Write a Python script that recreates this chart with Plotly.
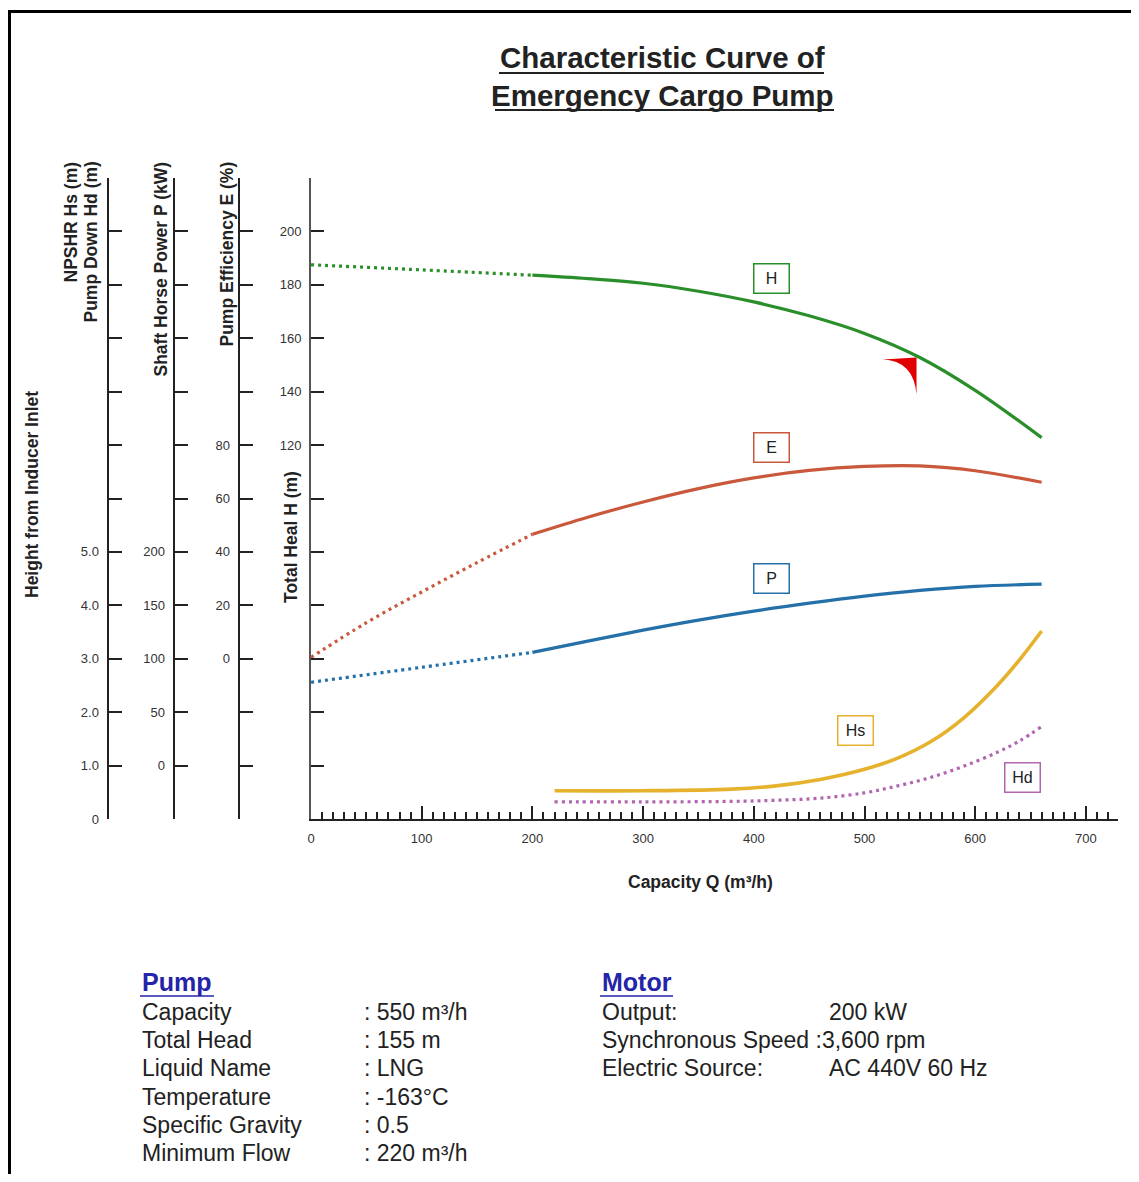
import plotly.graph_objects as go
import numpy as np

# ---------------- data ----------------
# Total head H (m) vs capacity Q (m3/h)
H_Q_DOT = [0, 100, 200]
H_DOT = [187.5, 185.6, 183.6]
H_Q = [200, 250, 300, 350, 400, 450, 500, 550, 600, 660]
H_VAL = [183.6, 182.3, 180.6, 177.6, 173.6, 168.4, 161.8, 152.8, 140.5, 122.8]

# Pump efficiency E (%)
E_Q_DOT = [0, 50, 100, 150, 200]
E_DOT = [0.5, 13.5, 25.0, 36.0, 46.6]
E_Q = [200, 250, 300, 350, 400, 450, 500, 550, 600, 660]
E_VAL = [46.6, 53.0, 58.7, 63.7, 67.7, 70.5, 72.0, 72.2, 70.4, 66.1]

# Shaft horse power P (kW)
P_Q_DOT = [0, 100, 200]
P_DOT = [78, 92, 106]
P_Q = [200, 250, 300, 350, 400, 450, 500, 550, 600, 660]
P_VAL = [106, 116.5, 126.8, 136.2, 144.6, 152.0, 158.6, 164.0, 167.8, 169.8]

# NPSHR Hs (m) and pump down Hd (m)
HS_Q = [220, 300, 380, 420, 460, 500, 530, 560, 590, 620, 640, 660]
HS_VAL = [0.53, 0.53, 0.56, 0.62, 0.74, 0.93, 1.14, 1.45, 1.90, 2.50, 2.98, 3.52]
HD_Q = [220, 300, 380, 420, 460, 500, 530, 560, 590, 620, 640, 660]
HD_VAL = [0.32, 0.32, 0.33, 0.35, 0.39, 0.49, 0.62, 0.78, 0.99, 1.25, 1.46, 1.73]

RATED_Q = 550
RATED_H = 155

X_TICKS = [0, 100, 200, 300, 400, 500, 600, 700]
H_TICKS = [-20, 0, 20, 40, 60, 80, 100, 120, 140, 160, 180, 200, 220]
H_LABELS = ["", "", "", "", "", "", "", "120", "140", "160", "180", "200", ""]
E_TICKS = [-60, -40, -20, 0, 20, 40, 60, 80, 100, 120, 140, 160, 180]
E_LABELS = ["", "", "", "0", "20", "40", "60", "80", "", "", "", "", ""]
P_TICKS = [-50, 0, 50, 100, 150, 200, 250, 300, 350, 400, 450, 500, 550]
P_LABELS = ["", "0", "50", "100", "150", "200", "", "", "", "", "", "", ""]
HS_TICKS = [0, 1, 2, 3, 4, 5, 6, 7, 8, 9, 10, 11, 12]
HS_LABELS = ["0", "1.0", "2.0", "3.0", "4.0", "5.0", "", "", "", "", "", "", ""]

PUMP_ROWS = [("Capacity", ": 550 m³/h"), ("Total Head", ": 155 m"), ("Liquid Name", ": LNG"),
             ("Temperature", ": -163°C"), ("Specific Gravity", ": 0.5"), ("Minimum Flow", ": 220 m³/h")]
MOTOR_ROWS = [("Output:", "200 kW"), ("Synchronous Speed :3,600 rpm", ""), ("Electric Source:", "AC 440V 60 Hz")]

# ---------------- styling / layout helpers ----------------
W, HT, OFF = 1123, 1166, 8
def fx(X):
    return (X - OFF) / W
def fy(Y):
    return 1 - (Y - OFF) / HT

C_H = "#2a8f2a"
C_E = "#c9583c"
C_P = "#2470a8"
C_HS = "#e6b22e"
C_HD = "#b066b0"
AX = "#222222"
FONT = "Liberation Sans"
TICKFONT = dict(family=FONT, size=13, color="#333333")

fig = go.Figure()

def add(xs, ys, color, yaxis, dotted=False, width=3.2):
    fig.add_trace(go.Scatter(
        x=xs, y=ys, mode="lines", yaxis=yaxis, hoverinfo="skip", showlegend=False,
        line=dict(color=color, width=width, shape="spline", dash="3px,4px" if dotted else "solid")))

add(H_Q_DOT, H_DOT, C_H, "y", dotted=True)
add(H_Q, H_VAL, C_H, "y")
add(E_Q_DOT, E_DOT, C_E, "y2", dotted=True)
add(E_Q, E_VAL, C_E, "y2")
add(P_Q_DOT, P_DOT, C_P, "y3", dotted=True)
add(P_Q, P_VAL, C_P, "y3")
add(HS_Q, HS_VAL, C_HS, "y4", width=3.6)
add(HD_Q, HD_VAL, C_HD, "y4", dotted=True)

ydom = [fy(819), fy(178)]

def yax(ticks, labels, rng, pos=None, linecolor=AX):
    d = dict(range=rng, domain=ydom, tickmode="array", tickvals=ticks, ticktext=labels,
             ticks="inside", ticklen=13, tickwidth=2, tickcolor=AX, showline=True,
             linewidth=2, linecolor=linecolor, showgrid=False, zeroline=False,
             tickfont=TICKFONT, fixedrange=True, ticklabelstandoff=5)
    if pos is not None:
        d.update(anchor="free", position=pos, overlaying="y", side="left")
    else:
        d.update(anchor="x", side="left")
    return d

fig.update_layout(
    width=W, height=HT, margin=dict(l=0, r=0, t=0, b=0, autoexpand=False),
    paper_bgcolor="white", plot_bgcolor="white", showlegend=False,
    xaxis=dict(range=[0, 729], domain=[fx(311), fx(1118)], tickmode="array", tickvals=X_TICKS,
               ticks="inside", ticklen=13, tickwidth=2, tickcolor=AX, showline=True, linewidth=2,
               linecolor=AX, showgrid=False, zeroline=False, tickfont=TICKFONT, anchor="y",
               ticklabelstandoff=6,
               minor=dict(ticks="inside", ticklen=7, tickwidth=1.5, tickcolor=AX, dtick=10,
                          showgrid=False)),
    yaxis=yax(H_TICKS, H_LABELS, [-20, 220], linecolor="#555555"),
    yaxis2=yax(E_TICKS, E_LABELS, [-60, 180], pos=fx(238.5)),
    yaxis3=yax(P_TICKS, P_LABELS, [-50, 550], pos=fx(173.5)),
    yaxis4=yax(HS_TICKS, HS_LABELS, [0, 12], pos=fx(107.5)),
)

ann = []
# title
for i, line in enumerate(["Characteristic Curve of", "Emergency Cargo Pump"]):
    ann.append(dict(text="<b>" + line + "</b>", x=fx(662), y=fy(58 + 37 * i), xref="paper", yref="paper",
                    showarrow=False, xanchor="center", yanchor="middle",
                    font=dict(family=FONT, size=29.5, color="#222222")))

# axis titles
AT = dict(family=FONT, size=17.5, color="#222222")
def vtitle(text, X, Y, yanchor):
    ann.append(dict(text="<b>" + text + "</b>", x=fx(X), y=fy(Y), xref="paper", yref="paper",
                    showarrow=False, textangle=-90, xanchor="center", yanchor=yanchor, font=AT))
vtitle("Height from Inducer Inlet", 32, 495, "middle")
vtitle("NPSHR Hs (m)", 70, 160, "top")
vtitle("Pump Down Hd (m)", 90, 160, "top")
vtitle("Shaft Horse Power P (kW)", 160, 160, "top")
vtitle("Pump Efficiency E (%)", 226, 160, "top")
vtitle("Total Heal H (m)", 291, 537, "middle")
ann.append(dict(text="<b>Capacity Q (m³/h)</b>", x=fx(700), y=fy(882), xref="paper", yref="paper",
                showarrow=False, xanchor="center", yanchor="middle", font=AT))

# curve label boxes
for txt, X, Y, col in [("H", 771, 278, C_H), ("E", 771, 447, C_E), ("P", 771, 578, C_P),
                       ("Hs", 855, 730, C_HS), ("Hd", 1022, 777, C_HD)]:
    ann.append(dict(text=txt, x=fx(X), y=fy(Y), xref="paper", yref="paper", showarrow=False,
                    xanchor="center", yanchor="middle", width=32, height=26, borderpad=1,
                    bordercolor=col, borderwidth=1.5, bgcolor="white",
                    font=dict(family=FONT, size=16, color="#222222")))

# spec text
BODY = dict(family=FONT, size=23, color="#222222")
HEAD = dict(family=FONT, size=25, color="#2424a8")
for txt, X in [("Pump", 140), ("Motor", 600)]:
    ann.append(dict(text="<b>" + txt + "</b>", x=fx(X), y=fy(982), xref="paper", yref="paper",
                    showarrow=False, xanchor="left", yanchor="middle", font=HEAD))
for i, (a, b) in enumerate(PUMP_ROWS):
    Y = 1012 + 28.2 * i
    ann.append(dict(text=a, x=fx(140), y=fy(Y), xref="paper", yref="paper", showarrow=False,
                    xanchor="left", yanchor="middle", font=BODY))
    ann.append(dict(text=b, x=fx(362), y=fy(Y), xref="paper", yref="paper", showarrow=False,
                    xanchor="left", yanchor="middle", font=BODY))
for i, (a, b) in enumerate(MOTOR_ROWS):
    Y = 1012 + 28.2 * i
    ann.append(dict(text=a, x=fx(600), y=fy(Y), xref="paper", yref="paper", showarrow=False,
                    xanchor="left", yanchor="middle", font=BODY))
    if b:
        ann.append(dict(text=b, x=fx(827), y=fy(Y), xref="paper", yref="paper", showarrow=False,
                        xanchor="left", yanchor="middle", font=BODY))
fig.update_layout(annotations=ann)

shapes = []
# title underlines
shapes.append(dict(type="line", xref="paper", yref="paper", x0=fx(499), x1=fx(824), y0=fy(73), y1=fy(73),
                   line=dict(color="#222222", width=2)))
shapes.append(dict(type="line", xref="paper", yref="paper", x0=fx(495), x1=fx(834), y0=fy(110), y1=fy(110),
                   line=dict(color="#222222", width=2)))
# header underlines
shapes.append(dict(type="line", xref="paper", yref="paper", x0=fx(140), x1=fx(214), y0=fy(996), y1=fy(996),
                   line=dict(color="#2424a8", width=1.5)))
shapes.append(dict(type="line", xref="paper", yref="paper", x0=fx(600), x1=fx(673), y0=fy(996), y1=fy(996),
                   line=dict(color="#2424a8", width=1.5)))
# outer frame (top and left)
shapes.append(dict(type="line", xref="paper", yref="paper", x0=fx(8), x1=fx(1139), y0=fy(11.5), y1=fy(11.5),
                   line=dict(color="black", width=3)))
shapes.append(dict(type="line", xref="paper", yref="paper", x0=fx(9.5), x1=fx(9.5), y0=fy(10), y1=fy(1182),
                   line=dict(color="black", width=3)))
# rated duty point marker on the H curve
rated_y = float(np.interp(RATED_Q, H_Q, H_VAL))
shapes.append(dict(type="path", xref="x", yref="y", xsizemode="pixel", ysizemode="pixel",
                   xanchor=RATED_Q - 3, yanchor=rated_y, path="M -34,-2 L 0,0 L 0,-37 Q -3,-3 -34,-2 Z",
                   fillcolor="#e00000", line=dict(width=0)))
fig.update_layout(shapes=shapes)

fig.write_html("out.html")
